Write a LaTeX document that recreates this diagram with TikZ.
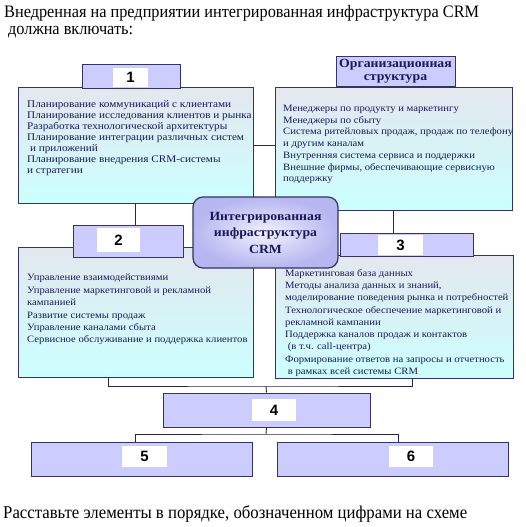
\documentclass[tikz,border=0pt]{standalone}
\usepackage{fontspec}
\setmainfont{Liberation Serif}
\newfontfamily\listfont[FakeStretch=1.1]{Liberation Serif}
\newfontfamily\pagefont[FakeStretch=0.93]{Liberation Serif}
\newfontfamily\numfont{Liberation Sans}
\usetikzlibrary{calc}
\begin{document}
\begin{tikzpicture}[x=1pt,y=-1pt,
  listbox/.style={shape=rectangle,draw=framecol,line width=1pt,top color=listtop,bottom color=listbottom,inner sep=0pt},
  headbox/.style={shape=rectangle,draw=framecol,line width=1pt,fill=headfill,inner sep=0pt},
  numbox/.style={shape=rectangle,fill=white,inner sep=0pt,font=\numfont\bfseries\fontsize{15}{15}\selectfont},
  listtext/.style={anchor=north west,inner sep=0pt,align=left,text=textcol},
  link/.style={draw=linecol,line width=0.9pt}]
\definecolor{framecol}{RGB}{51,51,102}
\definecolor{linecol}{RGB}{40,40,70}
\definecolor{headfill}{RGB}{204,204,255}
\definecolor{listtop}{RGB}{228,231,238}
\definecolor{listbottom}{RGB}{204,255,255}
\definecolor{textcol}{RGB}{25,25,90}
\definecolor{hubinner}{RGB}{240,240,255}
\definecolor{hubouter}{RGB}{182,182,240}
\useasboundingbox (0,0) rectangle (526,527);

\node[anchor=base west,inner sep=0pt,font=\pagefont\fontsize{17.5}{17}\selectfont] (title) at (4,18)
  {Внедренная на предприятии интегрированная инфраструктура CRM};
\node[anchor=base west,inner sep=0pt,font=\pagefont\fontsize{17.5}{17}\selectfont] (titletwo) at (8,35)
  {должна включать:};

\node[listbox,minimum width=235,minimum height=116] (listone) at (135.5,145) {};
\node[headbox,minimum width=98,minimum height=23] (headone) at (131,76.5) {};
\node[numbox,minimum width=35,minimum height=19] (numone) at (130.5,77.5) {1};

\node[listbox,minimum width=237,minimum height=123] (orgbox) at (393.5,148.5) {};
\node[headbox,minimum width=119,minimum height=29,align=center,text=textcol,font=\listfont\bfseries\fontsize{12.5}{13}\selectfont] (orghead) at (395.5,71.5) {Организационная\\структура};

\node[listbox,minimum width=235,minimum height=130] (listtwo) at (135.5,312) {};
\node[headbox,minimum width=110,minimum height=32] (headtwo) at (128,241) {};
\node[numbox,minimum width=43,minimum height=24] (numtwo) at (118.5,240) {2};

\node[listbox,minimum width=238,minimum height=123] (listthree) at (394,316.5) {};
\node[headbox,minimum width=133,minimum height=23] (headthree) at (406.5,244.5) {};
\node[numbox,minimum width=45,minimum height=20] (numthree) at (400.5,245) {3};

\node[shape=rectangle,rounded corners=10pt,draw=framecol,line width=1.2pt,inner color=hubinner,outer color=hubouter,minimum width=145,minimum height=71,align=center,text=textcol,font=\listfont\bfseries\fontsize{12.5}{16.5}\selectfont] (hub) at (265.5,232.5) {Интегрированная\\инфраструктура\\CRM};

\node[listtext,font=\listfont\fontsize{10.2}{11.1}\selectfont] (textone) at (27,100)
  {Планирование коммуникаций с клиентами\\
   Планирование исследования клиентов и рынка\\
   Разработка технологической архитектуры\\
   Планирование интеграции различных систем\\
   \ и приложений\\
   Планирование внедрения CRM-системы\\
   и стратегии};
\node[listtext,font=\listfont\fontsize{9.7}{11.7}\selectfont] (textorg) at (283,105)
  {Менеджеры по продукту и маркетингу\\
   Менеджеры по сбыту\\
   Система ритейловых продаж, продаж по телефону\\
   и другим каналам\\
   Внутренняя система сервиса и поддержки\\
   Внешние фирмы, обеспечивающие сервисную\\
   поддержку};
\node[listtext,font=\listfont\fontsize{9.7}{12.4}\selectfont] (texttwo) at (27,274)
  {Управление взаимодействиями\\
   Управление маркетинговой и рекламной\\
   кампанией\\
   Развитие системы продаж\\
   Управление каналами сбыта\\
   Сервисное обслуживание и поддержка клиентов};
\node[listtext,font=\listfont\fontsize{9.7}{12.3}\selectfont] (textthree) at (285,269)
  {Маркетинговая база данных\\
   Методы анализа данных и знаний,\\
   моделирование поведения рынка и потребностей\\
   Технологическое обеспечение маркетинговой и\\
   рекламной кампании\\
   Поддержка каналов продаж и контактов\\
   \ (в т.ч. call-центра)\\
   Формирование ответов на запросы и отчетность\\
   \ в рамках всей системы CRM};

\draw[link] (listone.south) -- (listone.south |- headtwo.north);
\draw[link] (listone.east) -- (orgbox.west |- listone.east);
\draw[link] (orgbox.south) -- (orgbox.south |- headthree.north);

\node[headbox,minimum width=207,minimum height=34] (boxfour) at (266.5,410) {};
\node[numbox,minimum width=44,minimum height=22] (numfour) at (274,410) {4};
\node[headbox,minimum width=221,minimum height=34] (boxfive) at (141.5,459) {};
\node[numbox,minimum width=45,minimum height=21] (numfive) at (144.5,456.5) {5};
\node[headbox,minimum width=231,minimum height=34] (boxsix) at (392.5,459) {};
\node[numbox,minimum width=44,minimum height=21] (numsix) at (411,456.5) {6};

\coordinate (joinup) at (266,386);
\coordinate (joindown) at (266,434);
\draw[link] ([xshift=-27.5]listtwo.south) |- (joinup) -| ([xshift=18]listthree.south);
\draw[link] (joinup) -- (boxfour.north);
\draw[link] (boxfour.south) -- (joindown);
\draw[link] ([xshift=-6.5]boxfive.north) |- (joindown) -| ([xshift=5.5]boxsix.north);

\node[anchor=base west,inner sep=0pt,font=\pagefont\fontsize{18}{18}\selectfont] (task) at (3,518)
  {Расставьте элементы в порядке, обозначенном цифрами на схеме};
\end{tikzpicture}
\end{document}
